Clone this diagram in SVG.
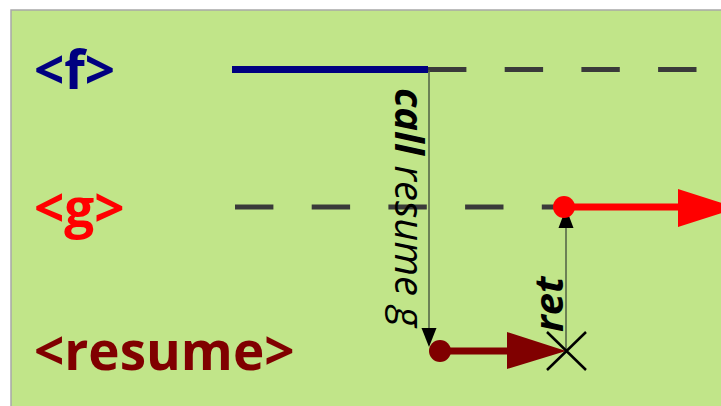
<svg xmlns="http://www.w3.org/2000/svg" width="721" height="406" viewBox="0 0 721 406">
<style>
.lbl{font-family:"Open Sans","Noto Sans",sans-serif;font-weight:bold;font-size:53px}
.dash{stroke:#3a3a3a;stroke-width:5;stroke-dasharray:38.4 38.3;fill:none}
.thin{stroke:#4f5f45;stroke-width:1.5;fill:none}
.ital{font-family:"Open Sans","Noto Sans",sans-serif;font-style:italic;font-size:40px;fill:#000}
</style>
<rect x="11" y="10" width="720" height="410" fill="#c1e589" stroke="#a8a8a8" stroke-width="1.5"/>
<g id="f">
<text class="lbl" x="34" y="89" fill="#000080">&lt;f&gt;</text>
</g>
<g id="g">
<text class="lbl" x="34" y="227" fill="#ff0000">&lt;g&gt;</text>
</g>
<g id="resume">
<text class="lbl" x="34" y="370" fill="#800000">&lt;resume&gt;</text>
</g>
<g id="connectors">
<line class="dash" x1="428" y1="69.5" x2="721" y2="69.5"/>
<line x1="232" y1="69.5" x2="428" y2="69.5" stroke="#000080" stroke-width="7"/>
<line class="dash" x1="235" y1="207" x2="563" y2="207"/>
<line class="thin" x1="429" y1="70" x2="429" y2="335"/>
<path d="M421.5,328 L436.5,328 L429,347 Z" fill="#000"/>
<text class="ital" transform="translate(395,88) rotate(90)"><tspan font-weight="bold">call</tspan> resume g</text>
<line x1="440" y1="351" x2="512" y2="351" stroke="#800000" stroke-width="7"/>
<path d="M507,332 L566,351 L507,369 Z" fill="#800000"/>
<circle cx="440" cy="351" r="11" fill="#800000"/>
<line class="thin" x1="566" y1="351" x2="566" y2="225"/>
<path d="M558.5,228 L573.5,228 L566,208 Z" fill="#000"/>
<text class="ital" font-weight="bold" font-size="42" transform="translate(563,332) rotate(-90)">ret</text>
<path d="M547,332 L586,370 M547,370 L586,332" stroke="#000" stroke-width="2.5"/>
<line x1="564" y1="207" x2="690" y2="207" stroke="#ff0000" stroke-width="7"/>
<path d="M678,189 L737,208 L678,227 Z" fill="#ff0000"/>
<circle cx="564" cy="207" r="11" fill="#ff0000"/>
</g>
</svg>
